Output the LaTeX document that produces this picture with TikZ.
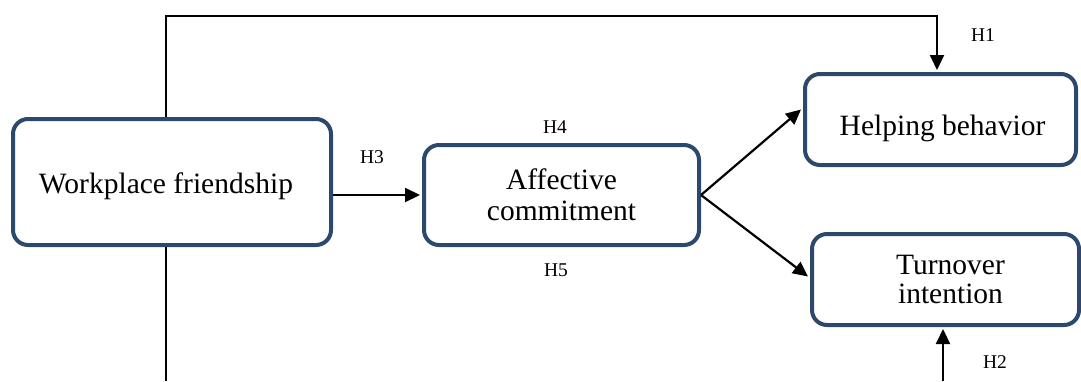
\documentclass[tikz,border=0pt]{standalone}
\usepackage{fontspec}
\setmainfont{Liberation Serif}
\usetikzlibrary{arrows.meta}
\definecolor{boxblue}{RGB}{44,72,108}
\tikzset{
  box/.style={draw=boxblue, line width=4pt, rounded corners=15pt, fill=white, align=center,
    font=\fontsize{29.5}{31}\selectfont, inner sep=0pt},
  conn/.style={draw=black, line width=2.2pt},
  arr/.style={conn, -{Triangle[length=15pt,width=14pt]}},
  hlab/.style={font=\fontsize{19.5}{22}\selectfont, inner sep=0pt}
}
\begin{document}
\begin{tikzpicture}[x=1pt,y=-1pt]
\useasboundingbox (0,0) rectangle (1081,381);
% nodes
\node[box, text height=22pt, text depth=0pt, minimum width=318pt, minimum height=126pt] (wf) at (172,182) {Workplace friendship\hspace*{12pt}};
\node[box, minimum width=275pt, minimum height=100pt] (af) at (561.5,195) {Affective\\commitment};
\node[box, text height=31pt, text depth=0pt, minimum width=271pt, minimum height=91pt] (hb) at (940.5,119.5) {\hspace*{4pt}Helping behavior};
\node[box, font=\fontsize{29.5}{29}\selectfont, minimum width=267pt, minimum height=91pt] (ti) at (945.5,279.5) {\hspace*{10pt}Turnover\\\hspace*{10pt}intention};
% coordinates for free ends / bends
\coordinate (t1) at (166,16);
\coordinate (t2) at (937,16);
\coordinate (b1) at (166,381);
\coordinate (b2) at (943,381);
% connectors
\draw[arr] (wf.north -| t1) -- (t1) -- (t2) -- ([yshift=2pt]hb.north -| t2);
\draw[conn] (wf.south -| b1) -- (b1);
\draw[arr] (b2) -- ([yshift=-2pt]ti.south -| b2);
\draw[arr] (wf.east |- af.west) -- ([xshift=-2pt]af.west);
\draw[arr] (af.east) -- ([yshift=10pt,xshift=-2pt]hb.west);
\draw[arr] (af.east) -- ([yshift=3pt,xshift=-2pt]ti.west);
% labels
\node[hlab] (h1) at (983,35) {H1};
\node[hlab] (h2) at (995,362) {H2};
\node[hlab] (h3) at (372,157) {H3};
\node[hlab] (h4) at (555,127) {H4};
\node[hlab] (h5) at (556,270) {H5};
\end{tikzpicture}
\end{document}
